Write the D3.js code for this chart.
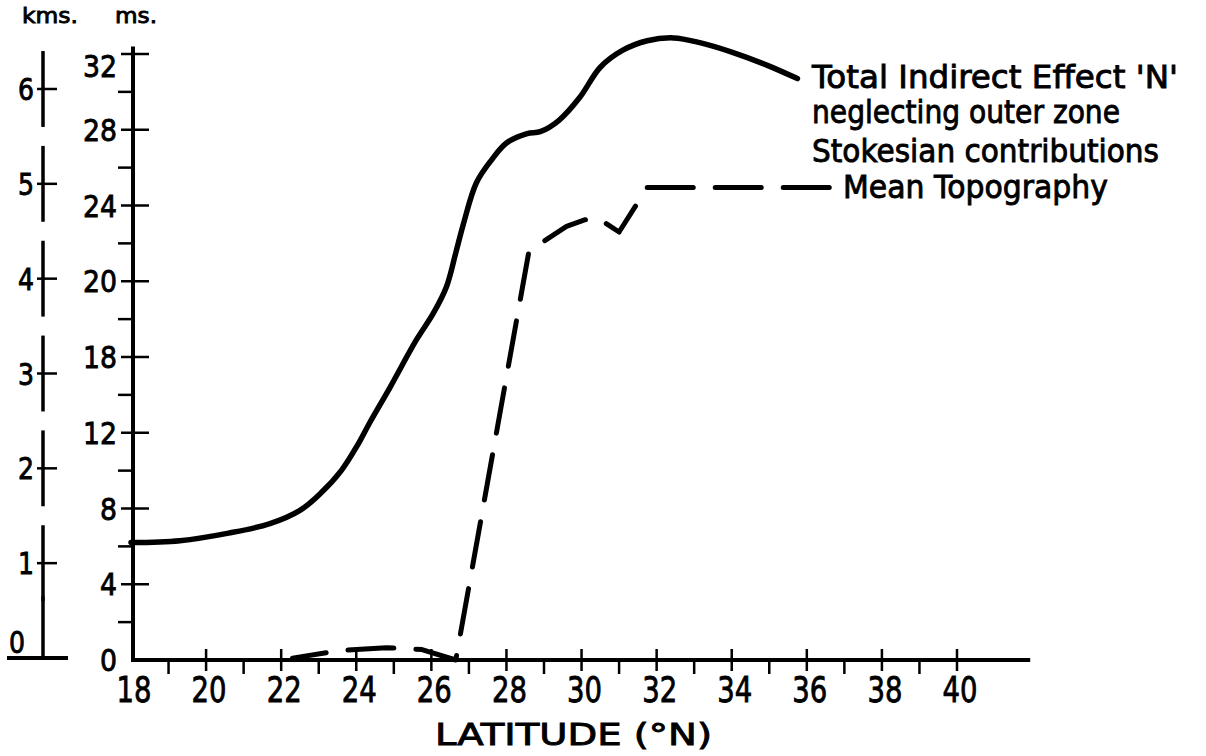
<!DOCTYPE html>
<html>
<head>
<meta charset="utf-8">
<script src="https://cdn.jsdelivr.net/npm/d3@7"></script>
<style>
  body { margin: 0; background: #fff; }
  text { font-family: "DejaVu Sans", sans-serif; fill: #000; stroke: #000; stroke-width: 0.9px; }
</style>
</head>
<body>
<svg id="chart"></svg>
<script>
// values
const latTicks = [18, 20, 22, 24, 26, 28, 30, 32, 34, 36, 38, 40];
const latMinor = [19, 21, 23, 25, 27, 29, 31, 33, 35, 37, 39];
const msTicks = [0, 4, 8, 12, 16, 20, 24, 28, 32];
const msTickLabels = ["0", "4", "8", "12", "18", "20", "24", "28", "32"]; // "18" as printed
const msMinor = [2, 6, 10, 14, 18, 22, 26, 30];
const kmsTicks = [0, 1, 2, 3, 4, 5, 6];

// Total indirect effect N (ms)
const totalLat = [18.0, 19.3, 20.6, 21.7, 22.5, 23.05, 23.6, 24.05, 24.35, 24.9, 25.6, 26.05, 26.4, 26.65, 26.85, 27.2, 27.6, 28.0, 28.55, 28.9, 29.4, 29.95, 30.5, 31.1, 31.75, 32.45, 33.15, 34.0, 34.95, 35.75];
const totalMs  = [6.2, 6.3, 6.7, 7.2, 7.9, 8.8, 10.0, 11.4, 12.5, 14.4, 16.9, 18.3, 19.7, 21.5, 23.0, 25.2, 26.4, 27.3, 27.8, 27.9, 28.5, 29.7, 31.3, 32.2, 32.7, 32.85, 32.6, 32.1, 31.4, 30.7];

// Mean topography (ms scale)
const topoLat = [22.3, 23.55, 24.8, 25.75, 26.65, 28.6, 29.6, 30.1, 30.5, 31.0, 31.75, 36.6];
const topoMs  = [0.1, 0.5, 0.65, 0.55, 0.0, 21.6, 22.9, 23.25, 23.25, 22.6, 24.95, 24.95];

const legendTotal = ["Total Indirect Effect 'N'", "neglecting outer zone", "Stokesian contributions"];
const legendTopo = "Mean Topography";

const W = 1206, H = 756;
const svg = d3.select("#chart").attr("width", W).attr("height", H);

const x = d3.scaleLinear().domain([18, 40]).range([131, 957]);
const y = d3.scaleLinear().domain([0, 32]).range([660, 54]);
const km = d3.scaleLinear().domain([0, 6]).range([658, 89]);
const axX = 133, kmX = 43;

const g = svg.append("g").attr("stroke", "#000").attr("stroke-linecap", "butt");

// x axis
g.append("line").attr("x1", axX - 2).attr("x2", x(41.95))
  .attr("y1", y(0)).attr("y2", y(0)).attr("stroke-width", 4);
g.selectAll(".xmaj").data(latTicks.slice(1)).enter().append("line")
  .attr("x1", d => x(d)).attr("x2", d => x(d))
  .attr("y1", y(0) - 11).attr("y2", y(0) + 11).attr("stroke-width", 2.5);
g.selectAll(".xmin").data(latMinor).enter().append("line")
  .attr("x1", d => x(d)).attr("x2", d => x(d))
  .attr("y1", y(0)).attr("y2", y(0) + 14).attr("stroke-width", 2.5);

svg.selectAll(".xlab").data(latTicks).enter().append("text")
  .attr("x", d => x(d) + 3).attr("y", 702)
  .attr("text-anchor", "middle").attr("font-size", 36)
  .attr("textLength", 35).attr("lengthAdjust", "spacingAndGlyphs")
  .text(d => d);

svg.append("text").attr("x", 435).attr("y", 745).attr("font-size", 30)
  .attr("textLength", 277).attr("lengthAdjust", "spacingAndGlyphs")
  .text("LATITUDE (°N)");

// ms axis
g.append("line").attr("x1", axX).attr("x2", axX)
  .attr("y1", y(0) + 2).attr("y2", y(32.4)).attr("stroke-width", 4);
g.selectAll(".ymaj").data(msTicks.slice(1)).enter().append("line")
  .attr("x1", axX - 12).attr("x2", axX + 16)
  .attr("y1", d => y(d)).attr("y2", d => y(d)).attr("stroke-width", 2.5);
g.selectAll(".ymin").data(msMinor).enter().append("line")
  .attr("x1", axX - 15).attr("x2", axX)
  .attr("y1", d => y(d)).attr("y2", d => y(d)).attr("stroke-width", 2.5);

svg.selectAll(".ylab").data(msTicks).enter().append("text")
  .attr("x", 117).attr("y", d => Math.max(y(d), 66) + 11)
  .attr("text-anchor", "end").attr("font-size", 31)
  .attr("textLength", (d, i) => msTickLabels[i].length * 17)
  .attr("lengthAdjust", "spacingAndGlyphs")
  .text((d, i) => msTickLabels[i]);

// kms axis, drawn broken around each tick
g.selectAll(".kseg").data(kmsTicks).enter().append("line")
  .attr("x1", kmX).attr("x2", kmX)
  .attr("y1", d => km(Math.max(0, d - 0.4)))
  .attr("y2", d => km(d === 0 ? 0.65 : d + 0.4))
  .attr("stroke-width", 3.5);
g.selectAll(".ktick").data(kmsTicks.slice(1)).enter().append("line")
  .attr("x1", kmX - 6).attr("x2", kmX + 14)
  .attr("y1", d => km(d)).attr("y2", d => km(d)).attr("stroke-width", 2.5);
g.append("line").attr("x1", 7).attr("x2", 68)
  .attr("y1", km(0)).attr("y2", km(0)).attr("stroke-width", 4);

svg.selectAll(".klab").data(kmsTicks).enter().append("text")
  .attr("x", d => d === 0 ? 25 : 34)
  .attr("y", d => d === 0 ? km(0) - 5 : km(d) + 11)
  .attr("text-anchor", "end").attr("font-size", 30)
  .attr("textLength", 16).attr("lengthAdjust", "spacingAndGlyphs")
  .text(d => d);

svg.append("text").attr("x", 22).attr("y", 23).attr("font-size", 22)
  .attr("textLength", 56).attr("lengthAdjust", "spacingAndGlyphs").text("kms.");
svg.append("text").attr("x", 115).attr("y", 23).attr("font-size", 22)
  .attr("textLength", 42).attr("lengthAdjust", "spacingAndGlyphs").text("ms.");

// curves
const totalLine = d3.line().x(d => x(d[0])).y(d => y(d[1]))
  .curve(d3.curveCatmullRom.alpha(0.5));

svg.append("path").datum(d3.zip(totalLat, totalMs))
  .attr("d", totalLine)
  .attr("fill", "none").attr("stroke", "#000").attr("stroke-width", 5.5)
  .attr("stroke-linecap", "round");

const topo = d3.zip(topoLat, topoMs);
const topoLine = d3.line().x(d => x(d[0])).y(d => y(d[1]));
const topoPath = svg.append("path").datum(topo)
  .attr("d", topoLine)
  .attr("fill", "none").attr("stroke", "#000").attr("stroke-width", 5)
  .attr("stroke-linecap", "round").attr("stroke-linejoin", "round");

// line the dash pattern up so a dash starts at the last corner
const period = 68;
const tmp = svg.append("path").attr("d", topoLine(topo.slice(0, topo.length - 1)));
const l1 = tmp.node().getTotalLength();
tmp.remove();
topoPath.attr("stroke-dasharray", "46,22")
  .attr("stroke-dashoffset", (period - (l1 % period)) % period);

// labels
svg.selectAll(".leg").data(legendTotal).enter().append("text")
  .attr("x", 812).attr("y", (d, i) => [88, 123, 162][i])
  .attr("font-size", 32)
  .attr("textLength", (d, i) => [366, 308, 347][i])
  .attr("lengthAdjust", "spacingAndGlyphs")
  .text(d => d);
svg.append("text").attr("x", 843).attr("y", 198).attr("font-size", 32)
  .attr("textLength", 265).attr("lengthAdjust", "spacingAndGlyphs")
  .text(legendTopo);
</script>
</body>
</html>
